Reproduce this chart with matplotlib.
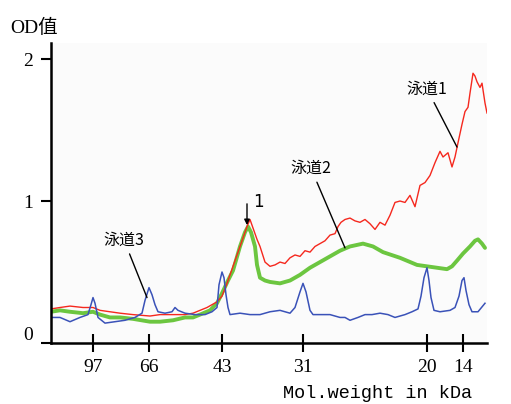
import matplotlib
matplotlib.use('Agg')
from matplotlib import pyplot as plt
from matplotlib.transforms import ScaledTranslation

# migration distance along the gel lane (arbitrary units) and OD readings
pos_red = [0, 9, 19, 32, 42, 49, 59, 69, 82, 99, 109, 122, 134, 142, 149, 156, 161, 166, 171, 176,
           182, 187, 192, 196, 199, 202, 206, 209, 214, 219, 224, 229, 234, 239, 244, 249, 254, 259,
           264, 269, 274, 279, 284, 287, 290, 294, 299, 304, 309, 314, 319, 324, 329, 334, 339, 344,
           349, 354, 359, 364, 369, 374, 379, 384, 389, 392, 397, 401, 404, 407, 411, 414, 417, 419,
           422, 424, 426, 429, 431, 434, 436]
od_red = [0.24, 0.25, 0.26, 0.25, 0.25, 0.23, 0.22, 0.21, 0.20, 0.19, 0.20, 0.20, 0.20, 0.21, 0.23,
          0.25, 0.27, 0.29, 0.33, 0.42, 0.54, 0.64, 0.74, 0.82, 0.87, 0.81, 0.73, 0.68, 0.57, 0.54,
          0.55, 0.57, 0.56, 0.60, 0.62, 0.61, 0.65, 0.64, 0.68, 0.70, 0.72, 0.76, 0.77, 0.82, 0.85,
          0.87, 0.88, 0.86, 0.85, 0.87, 0.84, 0.80, 0.85, 0.83, 0.90, 0.99, 1.00, 0.99, 1.04, 0.96,
          1.11, 1.13, 1.18, 1.27, 1.35, 1.31, 1.34, 1.24, 1.31, 1.41, 1.54, 1.63, 1.66, 1.76, 1.90,
          1.88, 1.84, 1.80, 1.83, 1.69, 1.62]

pos_green = [0, 9, 19, 32, 42, 49, 59, 69, 82, 99, 109, 122, 134, 142, 149, 159, 166, 171, 177, 182,
             189, 194, 197, 200, 204, 206, 209, 214, 219, 229, 239, 249, 259, 269, 279, 289, 299, 312,
             322, 332, 349, 366, 376, 386, 396, 401, 406, 412, 419, 424, 427, 431, 434]
od_green = [0.22, 0.23, 0.22, 0.21, 0.22, 0.20, 0.18, 0.18, 0.17, 0.15, 0.15, 0.16, 0.18, 0.18, 0.20,
            0.23, 0.28, 0.35, 0.44, 0.51, 0.68, 0.78, 0.82, 0.78, 0.68, 0.55, 0.46, 0.44, 0.43, 0.42,
            0.44, 0.48, 0.53, 0.57, 0.61, 0.65, 0.68, 0.70, 0.68, 0.64, 0.60, 0.55, 0.54, 0.53, 0.52,
            0.54, 0.58, 0.63, 0.68, 0.72, 0.73, 0.70, 0.67]

pos_blue = [0, 9, 19, 29, 37, 40, 42, 44, 47, 54, 64, 74, 84, 91, 94, 98, 101, 104, 107, 114, 121,
            124, 127, 134, 144, 154, 161, 166, 168, 171, 173, 175, 177, 179, 189, 199, 209, 219, 229,
            239, 244, 249, 252, 255, 259, 262, 269, 279, 289, 294, 299, 307, 314, 321, 329, 337, 344,
            354, 361, 367, 370, 373, 376, 378, 380, 383, 389, 399, 404, 408, 411, 413, 415, 418, 421,
            427, 434]
od_blue = [0.18, 0.18, 0.15, 0.18, 0.20, 0.27, 0.32, 0.28, 0.18, 0.14, 0.15, 0.16, 0.18, 0.21, 0.30,
           0.39, 0.34, 0.27, 0.22, 0.21, 0.22, 0.25, 0.23, 0.21, 0.20, 0.20, 0.22, 0.25, 0.41, 0.50,
           0.46, 0.34, 0.25, 0.20, 0.21, 0.20, 0.20, 0.22, 0.23, 0.21, 0.25, 0.36, 0.42, 0.36, 0.23,
           0.20, 0.20, 0.20, 0.18, 0.18, 0.16, 0.18, 0.20, 0.20, 0.21, 0.20, 0.18, 0.20, 0.22, 0.24,
           0.33, 0.46, 0.53, 0.44, 0.32, 0.23, 0.22, 0.23, 0.25, 0.33, 0.44, 0.46, 0.37, 0.27, 0.22,
           0.22, 0.28]

marker_pos = [42, 98, 171, 252, 376, 412]
marker_kda = ['97', '66', '43', '31', '20', '14']

fig = plt.figure(figsize=(5.11, 4.04), dpi=100)
fig.patch.set_facecolor('white')
ax = fig.add_axes([51 / 511, 61 / 404, 436 / 511, 300 / 404])
ax.set_facecolor('#fbfbfb')

ax.plot(pos_green, od_green, color='#6cc640', lw=2.8, solid_capstyle='round')
ax.plot(pos_red, od_red, color='#f5281e', lw=1.0)
ax.plot(pos_blue, od_blue, color='#3a52b8', lw=1.1)

ax.set_xlim(0, 436)
ax.set_ylim(0, 2.113)
for s in ['top', 'right']:
    ax.spines[s].set_visible(False)
for s in ['left', 'bottom']:
    ax.spines[s].set_linewidth(1.8)

ax.set_yticks([0, 1, 2])
ax.set_yticklabels(['0', '1', '2'], family='Liberation Serif', fontsize=14)
ax.set_xticks(marker_pos)
ax.set_xticklabels(marker_kda, family='Liberation Serif', fontsize=14)
ax.tick_params(axis='y', direction='out', length=7, width=1.5, pad=6)
ax.tick_params(axis='x', direction='inout', length=13, width=1.5, pad=5)
# lift the "0" off the x axis as in the original
lab0 = ax.get_yticklabels()[0]
lab0.set_transform(lab0.get_transform() + ScaledTranslation(0, 7 / 72, fig.dpi_scale_trans))

fig.text(34 / 511, 1 - 28 / 404, 'OD值', family=['Liberation Serif', 'Noto Sans CJK SC'],
         fontsize=14, ha='center', va='center')
fig.text(378 / 511, 1 - 393 / 404, 'Mol.weight in kDa', family='Liberation Mono',
         fontsize=13.4, ha='center', va='center')

cjk = ['Noto Sans CJK SC', 'DejaVu Sans']
ax.annotate('泳道1', xy=(406, 1.38), xytext=(376, 1.79), family=cjk, fontsize=11.5,
            ha='center', va='center',
            arrowprops=dict(arrowstyle='-', color='black', lw=1, shrinkA=2, shrinkB=0))
ax.annotate('泳道2', xy=(294, 0.67), xytext=(260, 1.23), family=cjk, fontsize=11.5,
            ha='center', va='center',
            arrowprops=dict(arrowstyle='-', color='black', lw=1, shrinkA=2, shrinkB=0))
ax.annotate('泳道3', xy=(96, 0.32), xytext=(73, 0.725), family=cjk, fontsize=11.5,
            ha='center', va='center',
            arrowprops=dict(arrowstyle='-', color='black', lw=1, shrinkA=2, shrinkB=0))

ax.annotate('', xy=(196, 0.83), xytext=(196, 0.98),
            arrowprops=dict(arrowstyle='-|>', color='black', lw=1, mutation_scale=8,
                            facecolor='white', shrinkA=0, shrinkB=0))
ax.text(207, 0.99, '1', family='DejaVu Sans', fontsize=12, ha='center', va='center')

fig.savefig('out.png', dpi=100)
